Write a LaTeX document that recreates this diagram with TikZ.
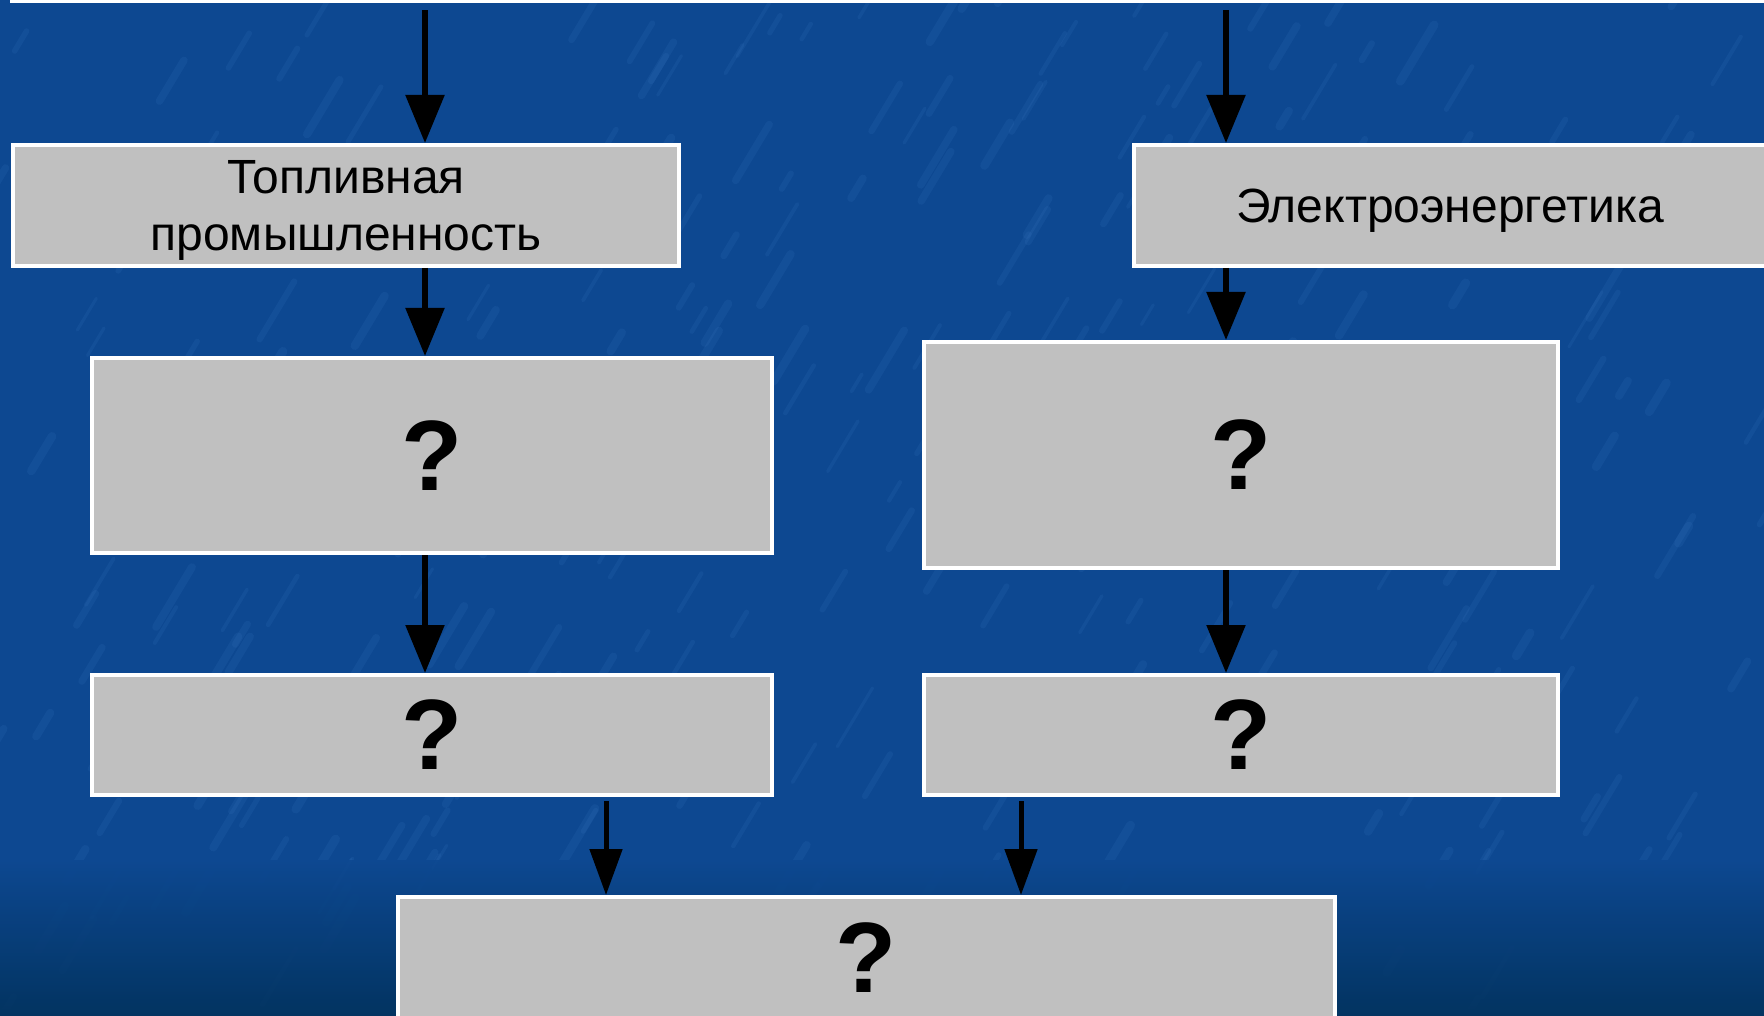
\documentclass[tikz,border=0pt]{standalone}
\usepackage{fontspec}
\setmainfont{Liberation Sans}
\usetikzlibrary{arrows.meta,calc}
\definecolor{bgblue}{RGB}{13,72,145}
\definecolor{bgdark}{RGB}{2,50,92}
\definecolor{streak}{RGB}{70,130,205}
\definecolor{boxgray}{RGB}{192,192,192}
\tikzset{
  box/.style={draw=white, line width=4pt, fill=boxgray, inner sep=0pt, text=black, align=center},
  lbl/.style={font=\fontsize{48}{57}\selectfont},
  qm/.style={font=\fontsize{100}{110}\selectfont\bfseries},
  arr/.style={draw=black, line width=5.5pt, -{Triangle[length=48pt,width=38pt]}},
  arrsm/.style={draw=black, line width=5pt, -{Triangle[length=46pt,width=32pt]}},
  streakline/.style={draw=streak, line cap=round, opacity=0.12},
}
\begin{document}
\begin{tikzpicture}[x=1pt,y=-1pt]
\useasboundingbox (0,0) rectangle (1764,1016);
\begin{scope}
\clip (0,0) rectangle (1764,1016);
\fill[bgblue] (0,0) rectangle (1764,1016);
% subtle texture
\pgfmathsetseed{7}
\foreach \i in {1,...,300}{
  \pgfmathsetmacro{\sx}{rnd*1800-20}
  \pgfmathsetmacro{\sy}{rnd*1040}
  \pgfmathsetmacro{\sl}{15+rnd*45}
  \pgfmathsetmacro{\sw}{3+rnd*6}
  \draw[streakline, line width=\sw pt] (\sx,\sy) -- ++(\sl*0.6,-\sl);
}
\shade[top color=bgblue, bottom color=bgdark, opacity=0.9] (0,860) rectangle (1764,1016);

% boxes
\node[box, minimum width=1789pt, minimum height=102pt] (T) at (906,-49.5) {};
\node[box, lbl, minimum width=666pt, minimum height=121pt] (A) at (346,205.5)
  {\raisebox{-5pt}[\height][\depth]{\begin{tabular}{@{}c@{}}Топливная\\промышленность\end{tabular}}};
\node[box, lbl, minimum width=632pt, minimum height=121pt] (B) at (1450,205.5)
  {\raisebox{-5pt}[\height][\depth]{Электроэнергетика}};
\node[box, qm, minimum width=680pt, minimum height=195pt] (C) at (432,455.5) {?};
\node[box, qm, minimum width=634pt, minimum height=226pt] (D) at (1241,455) {?};
\node[box, qm, minimum width=680pt, minimum height=120pt] (E) at (432,735) {?};
\node[box, qm, minimum width=634pt, minimum height=120pt] (F) at (1241,735) {?};
\node[box, qm, minimum width=937pt, minimum height=130pt] (G) at (866.5,962)
  {\raisebox{4pt}[\height][\depth]{?}};

% column guides
\coordinate (cl) at (425,0);
\coordinate (cr) at (1226,0);
\coordinate (gl) at (606,0);
\coordinate (gr) at (1021,0);

% connectors
\draw[arr] ($(T.south -| cl)+(0,7)$) -- (A.north -| cl);
\draw[arr] ($(T.south -| cr)+(0,7)$) -- (B.north -| cr);
\draw[arr] (A.south -| cl) -- (C.north -| cl);
\draw[arr] (B.south -| cr) -- (D.north -| cr);
\draw[arr] (C.south -| cl) -- (E.north -| cl);
\draw[arr] (D.south -| cr) -- (F.north -| cr);
\draw[arrsm] ($(E.south -| gl)+(0,4)$) -- (G.north -| gl);
\draw[arrsm] ($(F.south -| gr)+(0,4)$) -- (G.north -| gr);
\end{scope}
\end{tikzpicture}
\end{document}
